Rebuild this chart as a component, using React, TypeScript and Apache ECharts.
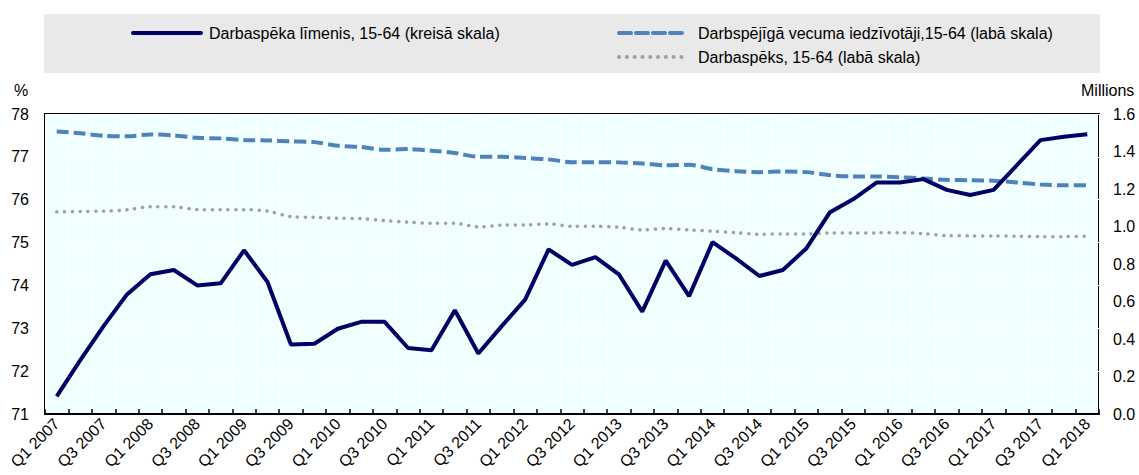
import React, { useEffect, useRef } from "react";
import * as echarts from "echarts";

const categories: string[] = [];
for (let y = 2007; y <= 2018; y++) {
  for (let q = 1; q <= 4; q++) {
    if (y === 2018 && q > 1) break;
    categories.push(`Q${q} ${y}`);
  }
}

const participationRate = [
  71.41, 72.25, 73.05, 73.79, 74.26, 74.36, 74.0, 74.05, 74.82, 74.08,
  72.62, 72.64, 72.99, 73.15, 73.15, 72.54, 72.49, 73.42, 72.41, 73.05,
  73.67, 74.84, 74.48, 74.66, 74.26, 73.39, 74.58, 73.75, 75.01, 74.63,
  74.22, 74.36, 74.86, 75.7, 76.01, 76.4, 76.4, 76.48, 76.23, 76.11,
  76.23, 76.81, 77.39, 77.47, 77.53,
];

const workingAgePop = [
  1.507, 1.497, 1.484, 1.481, 1.491, 1.486, 1.473, 1.47, 1.461, 1.459,
  1.454, 1.45, 1.431, 1.424, 1.409, 1.413, 1.404, 1.392, 1.372, 1.372,
  1.365, 1.358, 1.343, 1.343, 1.342, 1.336, 1.326, 1.329, 1.306, 1.295,
  1.29, 1.293, 1.29, 1.274, 1.267, 1.267, 1.263, 1.256, 1.249, 1.247,
  1.244, 1.235, 1.224, 1.22, 1.22,
];

const labourForce = [
  1.078, 1.08, 1.082, 1.089, 1.105, 1.105, 1.09, 1.09, 1.09, 1.082,
  1.053, 1.049, 1.044, 1.042, 1.032, 1.023, 1.017, 1.017, 0.998, 1.007,
  1.008, 1.014, 1.001, 1.001, 0.996, 0.982, 0.989, 0.982, 0.975, 0.967,
  0.959, 0.96, 0.96, 0.966, 0.966, 0.966, 0.967, 0.962, 0.951, 0.95,
  0.95, 0.948, 0.946, 0.946, 0.948,
];

const seriesNames = [
  "Darbaspēka līmenis, 15-64 (kreisā skala)",
  "Darbspējīgā vecuma iedzīvotāji,15-64 (labā skala)",
  "Darbaspēks, 15-64 (labā skala)",
];

const FONT = "'Liberation Sans', Arial, sans-serif";
const FS = 16;

export default function App() {
  const ref = useRef<HTMLDivElement>(null);
  useEffect(() => {
    document.body.style.margin = "0";
    const chart = echarts.init(ref.current!, null, { renderer: "svg" });
    const legendText = {
      color: "#000",
      fontSize: FS,
      fontFamily: FONT,
      lineHeight: 20,
      padding: [0, 0, 0, 3],
    };
    chart.setOption({
      animation: false,
      textStyle: { fontFamily: FONT },
      graphic: [
        {
          type: "rect",
          z: -10,
          shape: { x: 44, y: 14, width: 1056, height: 59 },
          style: { fill: "#E9E9E9" },
        },
        {
          type: "text",
          left: 14,
          top: 82,
          style: { text: "%", fontSize: FS, fontFamily: FONT, fill: "#000" },
        },
        {
          type: "text",
          left: 1081,
          top: 82,
          style: { text: "Millions", fontSize: FS, fontFamily: FONT, fill: "#000" },
        },
      ],
      legend: [
        {
          data: [seriesNames[0]],
          left: 131,
          top: 23,
          padding: 0,
          itemWidth: 68,
          itemHeight: 14,
          itemStyle: { opacity: 0 },
          lineStyle: { width: 4, cap: "round" },
          textStyle: legendText,
        },
        {
          data: [seriesNames[1], seriesNames[2]],
          orient: "vertical",
          left: 617,
          top: 23,
          padding: 0,
          itemWidth: 68,
          itemHeight: 14,
          itemGap: 4,
          itemStyle: { opacity: 0 },
          lineStyle: { width: 4, cap: "round" },
          textStyle: { ...legendText, padding: [0, 0, 0, 6] },
        },
      ],
      grid: {
        left: 45,
        right: 40,
        top: 114,
        bottom: 61,
        outerBoundsMode: "none",
        containLabel: false,
        show: true,
        backgroundColor: "#F0FFFF",
        borderColor: "#000",
        borderWidth: 2,
      },
      xAxis: {
        type: "category",
        data: categories,
        boundaryGap: true,
        axisLine: { lineStyle: { color: "#000", width: 2 } },
        axisTick: { show: true, inside: true, interval: 0, length: 5, lineStyle: { color: "#000", width: 1.5 } },
        splitLine: { show: true, interval: 0, lineStyle: { color: "#FFFFFF", width: 1 } },
        axisLabel: {
          interval: 1,
          rotate: 45,
          fontSize: FS,
          color: "#000",
          fontFamily: FONT,
          margin: 7,
        },
      },
      yAxis: [
        {
          type: "value",
          min: 71,
          max: 78,
          interval: 1,
          axisLine: { show: false },
          axisTick: { show: false },
          splitLine: { show: true, lineStyle: { color: "#FFFFFF", width: 1 } },
          axisLabel: { fontSize: FS, color: "#000", fontFamily: FONT, margin: 16 },
        },
        {
          type: "value",
          min: 0,
          max: 1.6,
          interval: 0.2,
          axisLine: { show: false },
          axisTick: { show: false },
          splitLine: { show: false },
          axisLabel: {
            fontSize: FS,
            color: "#000",
            fontFamily: FONT,
            margin: 14,
            formatter: (v: number) => v.toFixed(1),
          },
        },
      ],
      series: [
        {
          name: seriesNames[1],
          type: "line",
          yAxisIndex: 1,
          data: workingAgePop,
          symbol: "none",
          smooth: 0.3,
          lineStyle: { color: "#4F81BD", width: 4, type: [12, 5] },
          itemStyle: { color: "#4F81BD" },
          z: 2,
        },
        {
          name: seriesNames[2],
          type: "line",
          yAxisIndex: 1,
          data: labourForce,
          symbol: "none",
          smooth: 0.3,
          lineStyle: { color: "#A0A0A0", width: 3.5, type: [0.1, 7.7], cap: "round" },
          itemStyle: { color: "#A0A0A0" },
          z: 2,
        },
        {
          name: seriesNames[0],
          type: "line",
          yAxisIndex: 0,
          data: participationRate,
          symbol: "none",
          lineStyle: { color: "#000066", width: 4 },
          itemStyle: { color: "#000066" },
          z: 3,
        },
      ],
    });
    return () => chart.dispose();
  }, []);
  return <div ref={ref} style={{ width: 1139, height: 475 }} />;
}
